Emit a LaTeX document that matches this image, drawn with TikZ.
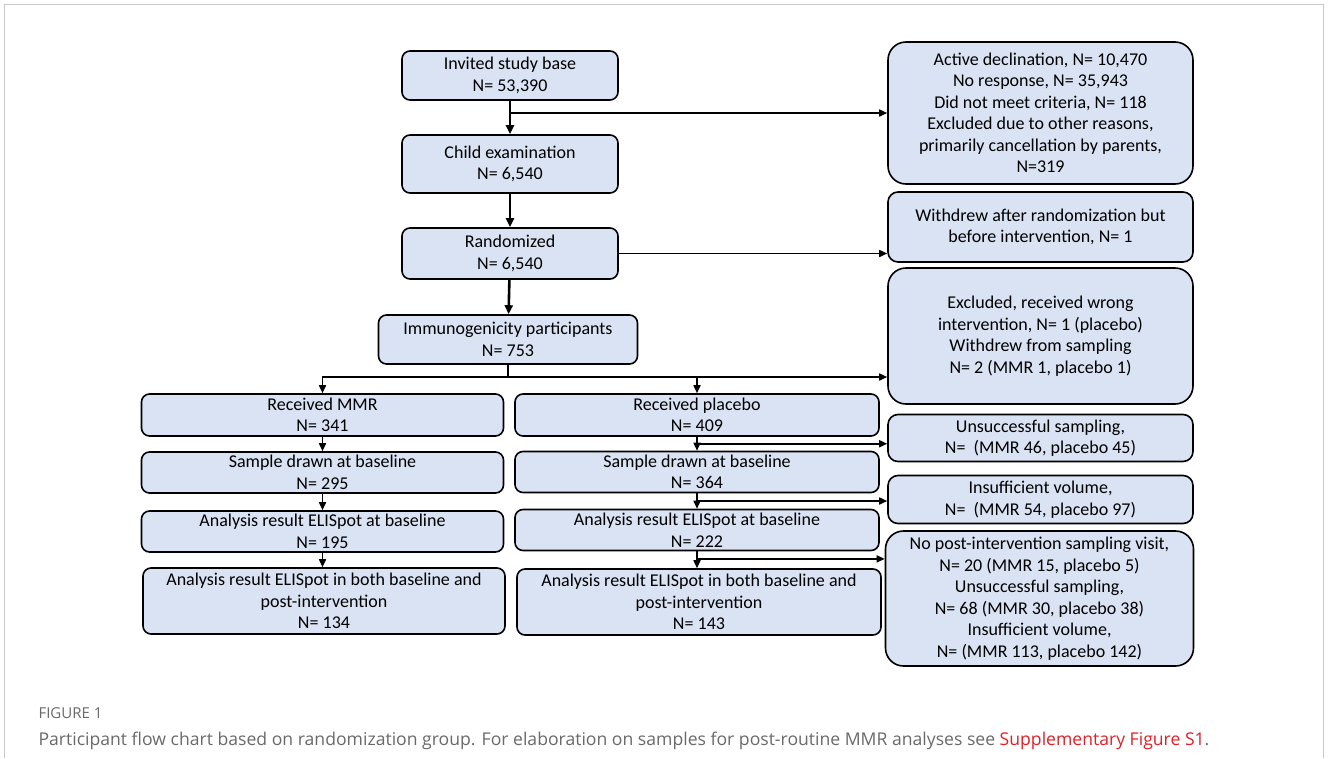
\documentclass[tikz,border=0pt]{standalone}
\usepackage{fontspec}
\setmainfont{Carlito}
\newfontfamily\capfont{Open Sans}
\usepackage{xcolor}
\usepackage{tikz}
\usetikzlibrary{arrows.meta,calc}
\definecolor{boxcol}{RGB}{218,227,243}
\definecolor{framecol}{RGB}{200,200,200}
\definecolor{capcol}{RGB}{105,105,105}
\definecolor{linkcol}{RGB}{228,30,38}
\tikzset{
  arrow/.style={-{Triangle[length=8pt,width=7pt]},line width=1.6pt},
  mainarrow/.style={-{Triangle[length=9pt,width=8pt]},line width=2.6pt},
  link/.style={line width=1.6pt},
  flowbox/.style={draw,line width=1.6pt,fill=boxcol,rounded corners=8pt,
    align=center,inner sep=0pt,font=\fontsize{18}{21.5}\selectfont},
  exclbox/.style={flowbox,rounded corners=18pt,minimum width=305pt},
  armbox/.style={flowbox,minimum width=362pt,minimum height=42pt}
}

\begin{document}
\begin{tikzpicture}[x=1pt,y=-1pt]
  \useasboundingbox (0,0) rectangle (1328,758);
  \draw[framecol,line width=1pt] (4,758) -- (4,4) -- (1323,4) -- (1323,758);

  % main column
  \node[flowbox,minimum width=216pt,minimum height=49pt] (inv) at (510,75.5)
    {Invited study base\\N= 53,390};
  \node[flowbox,minimum width=216pt,minimum height=58pt] (child) at (510,164)
    {Child examination\\N= 6,540};
  \node[flowbox,minimum width=216pt,minimum height=51pt] (rand) at (510,253.5)
    {Randomized\\N= 6,540};
  \node[flowbox,minimum width=259pt,minimum height=49pt] (imm) at (508,339.5)
    {Immunogenicity participants\\N= 753};

  % exclusions
  \node[exclbox,minimum height=142pt] (ex1) at (1040.5,113)
    {Active declination, N= 10,470\\No response, N= 35,943\\
     Did not meet criteria, N= 118\\Excluded due to other reasons,\\
     primarily cancellation by parents,\\N=319};
  \node[exclbox,rounded corners=10pt,minimum height=70pt] (ex2) at (1040.5,227)
    {Withdrew after randomization but\\before intervention, N= 1};
  \node[exclbox,minimum height=136pt] (ex3) at (1040.5,336)
    {Excluded, received wrong\\intervention, N= 1 (placebo)\\
     Withdrew from sampling\\N= 2 (MMR 1, placebo 1)};
  \node[exclbox,rounded corners=10pt,minimum height=47pt] (ex4) at (1040.5,438)
    {Unsuccessful sampling,\\N=\ \ (MMR 46, placebo 45)};
  \node[exclbox,rounded corners=10pt,minimum height=48pt] (ex5) at (1040.5,499.5)
    {Insufficient volume,\\N=\ \ (MMR 54, placebo 97)};
  \node[exclbox,minimum width=308pt,minimum height=135pt] (ex6) at (1039.5,598.5)
    {No post-intervention sampling visit,\\N= 20 (MMR 15, placebo 5)\\
     Unsuccessful sampling,\\N= 68 (MMR 30, placebo 38)\\
     Insufficient volume,\\N= (MMR 113, placebo 142)};

  % MMR arm
  \node[armbox] (mmr) at (322.5,415) {Received MMR\\N= 341};
  \node[armbox,minimum height=41pt] (mmr2) at (322.5,472.5)
    {Sample drawn at baseline\\N= 295};
  \node[armbox,minimum height=41pt] (mmr3) at (322.5,531.5)
    {Analysis result ELISpot at baseline\\N= 195};
  \node[armbox,minimum height=66pt] (mmr4) at (324,601)
    {Analysis result ELISpot in both baseline and\\post-intervention\\N= 134};

  % placebo arm
  \node[armbox,minimum width=364pt] (plc) at (697,415) {Received placebo\\N= 409};
  \node[armbox,minimum width=364pt,minimum height=41pt] (plc2) at (697,472)
    {Sample drawn at baseline\\N= 364};
  \node[armbox,minimum width=364pt,minimum height=41pt] (plc3) at (697,530)
    {Analysis result ELISpot at baseline\\N= 222};
  \node[armbox,minimum width=364pt,minimum height=66pt] (plc4) at (699,602)
    {Analysis result ELISpot in both baseline and\\post-intervention\\N= 143};

  % main flow
  \draw[mainarrow] (inv) -- (child);
  \draw[mainarrow] (child) -- (rand);
  \draw[mainarrow] (rand) -- (imm);
  \coordinate (j1) at (inv.south |- ex1.west);
  \draw[arrow] (j1) -- (j1 -| ex1.west);
  \draw[arrow] (rand.east) -- (rand.east -| ex2.west);

  % split into arms
  \coordinate (br) at (508,377);
  \draw[link] (imm.south) -- (br);
  \draw[arrow] (br) -| (mmr.north);
  \draw[arrow] (br) -| (plc.north);
  \draw[arrow] (br -| plc.north) -- (br -| ex3.west);

  % arm flows
  \draw[arrow] (mmr) -- (mmr2);
  \draw[arrow] (mmr2) -- (mmr3);
  \draw[arrow] (mmr3.south) -- (mmr3.south |- mmr4.north);
  \draw[arrow] (plc) -- (plc2);
  \draw[arrow] (plc2) -- (plc3);
  \draw[arrow] (plc3.south) -- (plc3.south |- plc4.north);
  \coordinate (j4) at ($(plc.south)!0.5!(plc2.north)$);
  \coordinate (j5) at ($(plc2.south)!0.5!(plc3.north)$);
  \coordinate (j6) at ($(plc3.south)!0.45!(plc4.north)$);
  \draw[arrow] (j4) -- (j4 -| ex4.west);
  \draw[arrow] (j5) -- (j5 -| ex5.west);
  \draw[arrow] (j6) -- (j6 -| ex6.west);

  % caption
  \node[anchor=base west,text=capcol,font=\capfont\fontsize{15}{18}\selectfont]
    (figlabel) at (35,718) {FIGURE 1};
  \node[anchor=base west,text=capcol,font=\capfont\fontsize{17.6}{21}\selectfont]
    (caption) at (35,745) {Participant flow chart based on randomization group.
    For elaboration on samples for post-routine MMR analyses see
    \textcolor{linkcol}{Supplementary Figure S1}.};
\end{tikzpicture}
\end{document}
